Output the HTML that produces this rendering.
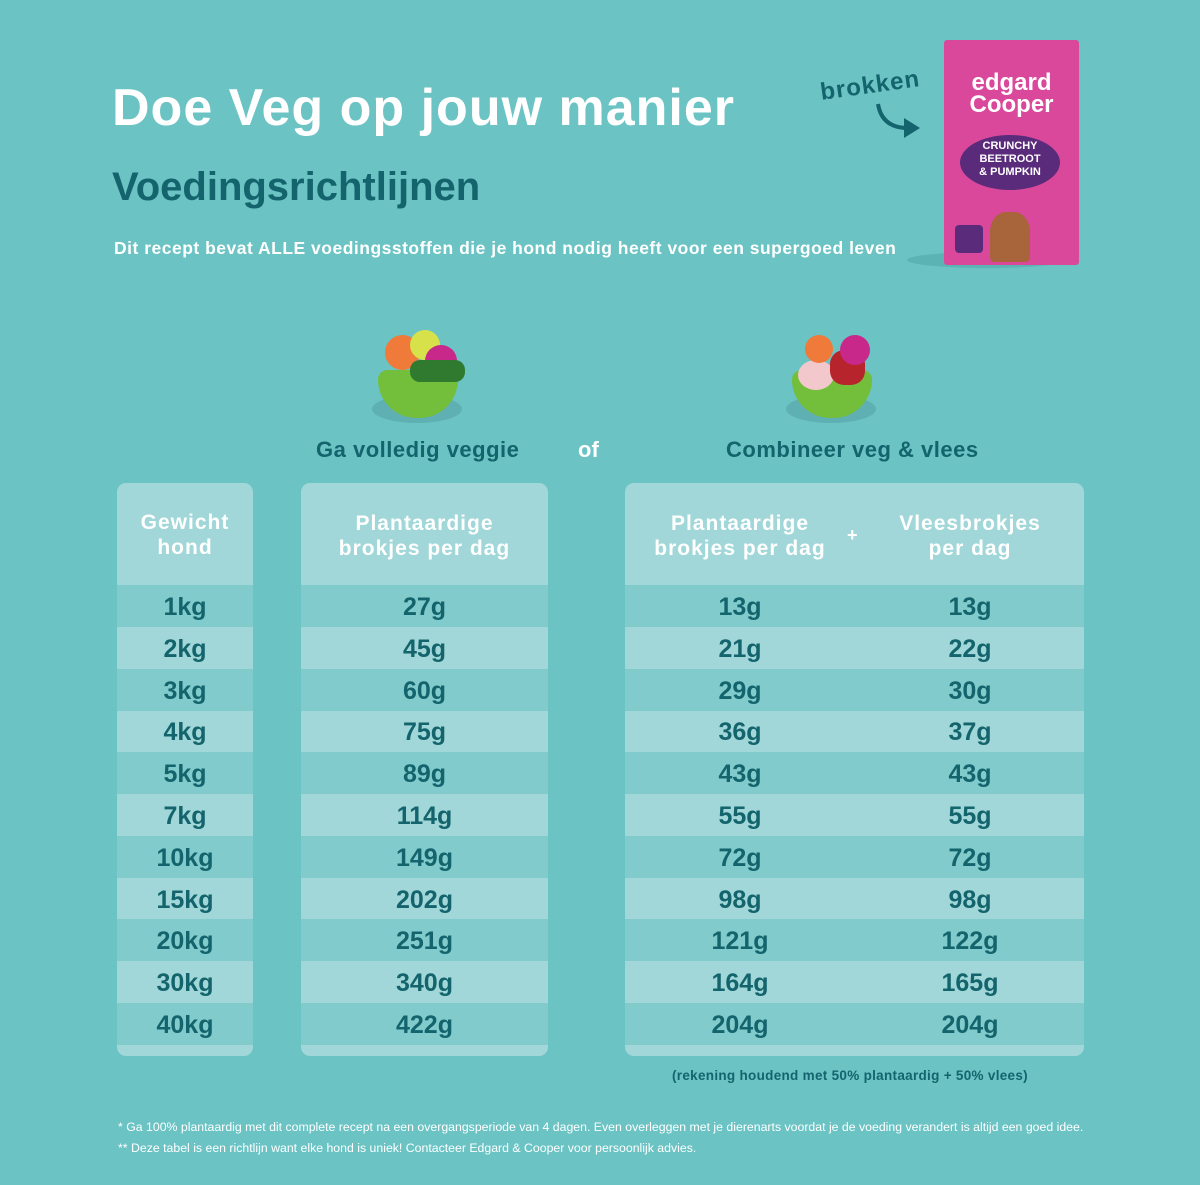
<!DOCTYPE html>
<html><head><meta charset="utf-8"><style>
*{margin:0;padding:0;box-sizing:border-box}
body{width:1200px;height:1185px;background:#6bc3c4;font-family:"Liberation Sans",sans-serif;position:relative;overflow:hidden}
.a{position:absolute}
.t{color:#fff;font-weight:bold}
.d{color:#13646c;font-weight:bold}
.p{position:absolute;top:483px;background:#a1d7d8;border-radius:9px;overflow:hidden;height:573px}
.h{position:absolute;top:0;left:0;right:0;height:102px;color:#fff;font-weight:bold;font-size:21px;line-height:25px;text-align:center;letter-spacing:1px}
.r{position:absolute;left:0;right:0;height:42px;line-height:44px;font-size:25px;color:#13646c;font-weight:bold;text-align:center}
.dk{background:#82cbcc}
.c{position:absolute;width:230px;text-align:center}
</style></head><body>
<div class="a t" style="left:112px;top:78px;font-size:52px;letter-spacing:1px">Doe Veg op jouw manier</div>
<div class="a d" style="left:112px;top:165px;font-size:40px;color:#13646c">Voedingsrichtlijnen</div>
<div class="a t" style="left:114px;top:238px;font-size:17.5px;letter-spacing:0.5px">Dit recept bevat ALLE voedingsstoffen die je hond nodig heeft voor een supergoed leven</div>
<div class="a d" style="left:820px;top:72px;font-size:24px;transform:rotate(-8deg);letter-spacing:1px">brokken</div>
<svg class="a" style="left:870px;top:100px" width="60" height="40"><path d="M8 4 Q12 28 38 28" stroke="#13646c" stroke-width="4" fill="none"/><path d="M34 18 L50 28 L34 38 Z" fill="#13646c"/></svg>
<div class="a" style="left:907px;top:252px;width:160px;height:16px;border-radius:50%;background:#5bb3b4"></div>
<div class="a" style="left:944px;top:40px;width:135px;height:225px;background:#d9489b;border-radius:3px"></div>
<div class="a t" style="left:944px;top:72px;width:135px;text-align:center;font-size:24px;line-height:22px">edgard<br>Cooper</div>
<div class="a" style="left:960px;top:135px;width:100px;height:55px;background:#5a2b7a;border-radius:50%"></div>
<div class="a t" style="left:960px;top:140px;width:100px;text-align:center;font-size:11px;line-height:13px">CRUNCHY<br>BEETROOT<br>&amp; PUMPKIN</div>
<div class="a" style="left:990px;top:212px;width:40px;height:50px;background:#a8643a;border-radius:40% 40% 10% 10%"></div>
<div class="a" style="left:955px;top:225px;width:28px;height:28px;background:#5a2b7a;border-radius:4px"></div>
<!-- bowls -->
<div class="a" style="left:372px;top:395px;width:90px;height:28px;background:#5fb0b2;border-radius:50%"></div>
<div class="a" style="left:378px;top:370px;width:80px;height:48px;background:#73be3a;border-radius:10px 10px 40px 40px"></div>
<div class="a" style="left:385px;top:335px;width:35px;height:35px;background:#f07a3a;border-radius:50%"></div>
<div class="a" style="left:410px;top:330px;width:30px;height:30px;background:#d7e24a;border-radius:50%"></div>
<div class="a" style="left:425px;top:345px;width:32px;height:32px;background:#c8288a;border-radius:50%"></div>
<div class="a" style="left:410px;top:360px;width:55px;height:22px;background:#2f7a2e;border-radius:10px"></div>
<div class="a" style="left:786px;top:395px;width:90px;height:28px;background:#5fb0b2;border-radius:50%"></div>
<div class="a" style="left:792px;top:370px;width:80px;height:48px;background:#73be3a;border-radius:10px 10px 40px 40px"></div>
<div class="a" style="left:798px;top:360px;width:36px;height:30px;background:#f3c8cc;border-radius:50%"></div>
<div class="a" style="left:830px;top:350px;width:35px;height:35px;background:#b8242c;border-radius:40%"></div>
<div class="a" style="left:840px;top:335px;width:30px;height:30px;background:#c8288a;border-radius:50%"></div>
<div class="a" style="left:805px;top:335px;width:28px;height:28px;background:#f07a3a;border-radius:50%"></div>
<div class="a d" style="left:316px;top:437px;font-size:22px;letter-spacing:0.5px">Ga volledig veggie</div>
<div class="a t" style="left:578px;top:437px;font-size:22px">of</div>
<div class="a d" style="left:726px;top:437px;font-size:22px;letter-spacing:0.5px">Combineer veg &amp; vlees</div>

<div class="p" style="left:117px;width:136px">
<div class="h" style="padding-top:27px">Gewicht<br>hond</div>
<div class="r dk" style="top:102px">1kg</div><div class="r" style="top:144px">2kg</div><div class="r dk" style="top:186px">3kg</div><div class="r" style="top:227px">4kg</div><div class="r dk" style="top:269px">5kg</div><div class="r" style="top:311px">7kg</div><div class="r dk" style="top:353px">10kg</div><div class="r" style="top:395px">15kg</div><div class="r dk" style="top:436px">20kg</div><div class="r" style="top:478px">30kg</div><div class="r dk" style="top:520px">40kg</div>
</div>
<div class="p" style="left:301px;width:247px">
<div class="h" style="padding-top:28px">Plantaardige<br>brokjes per dag</div>
<div class="r dk" style="top:102px">27g</div><div class="r" style="top:144px">45g</div><div class="r dk" style="top:186px">60g</div><div class="r" style="top:227px">75g</div><div class="r dk" style="top:269px">89g</div><div class="r" style="top:311px">114g</div><div class="r dk" style="top:353px">149g</div><div class="r" style="top:395px">202g</div><div class="r dk" style="top:436px">251g</div><div class="r" style="top:478px">340g</div><div class="r dk" style="top:520px">422g</div>
</div>
<div class="p" style="left:625px;width:459px">
<div class="h" style="padding-top:28px"><span class="c" style="left:0">Plantaardige<br>brokjes per dag</span><span class="a" style="left:222px;top:40px;font-size:18px">+</span><span class="c" style="left:230px">Vleesbrokjes<br>per dag</span></div>
<div class="r dk" style="top:102px"><span class="c" style="left:0">13g</span><span class="c" style="left:230px">13g</span></div>
<div class="r" style="top:144px"><span class="c" style="left:0">21g</span><span class="c" style="left:230px">22g</span></div>
<div class="r dk" style="top:186px"><span class="c" style="left:0">29g</span><span class="c" style="left:230px">30g</span></div>
<div class="r" style="top:227px"><span class="c" style="left:0">36g</span><span class="c" style="left:230px">37g</span></div>
<div class="r dk" style="top:269px"><span class="c" style="left:0">43g</span><span class="c" style="left:230px">43g</span></div>
<div class="r" style="top:311px"><span class="c" style="left:0">55g</span><span class="c" style="left:230px">55g</span></div>
<div class="r dk" style="top:353px"><span class="c" style="left:0">72g</span><span class="c" style="left:230px">72g</span></div>
<div class="r" style="top:395px"><span class="c" style="left:0">98g</span><span class="c" style="left:230px">98g</span></div>
<div class="r dk" style="top:436px"><span class="c" style="left:0">121g</span><span class="c" style="left:230px">122g</span></div>
<div class="r" style="top:478px"><span class="c" style="left:0">164g</span><span class="c" style="left:230px">165g</span></div>
<div class="r dk" style="top:520px"><span class="c" style="left:0">204g</span><span class="c" style="left:230px">204g</span></div>
</div>
<div class="a d" style="left:672px;top:1068px;font-size:13.5px;letter-spacing:0.3px">(rekening houdend met 50% plantaardig + 50% vlees)</div>
<div class="a" style="left:118px;top:1120px;font-size:12.3px;color:#fff">* Ga 100% plantaardig met dit complete recept na een overgangsperiode van 4 dagen. Even overleggen met je dierenarts voordat je de voeding verandert is altijd een goed idee.</div>
<div class="a" style="left:118px;top:1141px;font-size:12.3px;color:#fff">** Deze tabel is een richtlijn want elke hond is uniek! Contacteer Edgard &amp; Cooper voor persoonlijk advies.</div>
</body></html>
